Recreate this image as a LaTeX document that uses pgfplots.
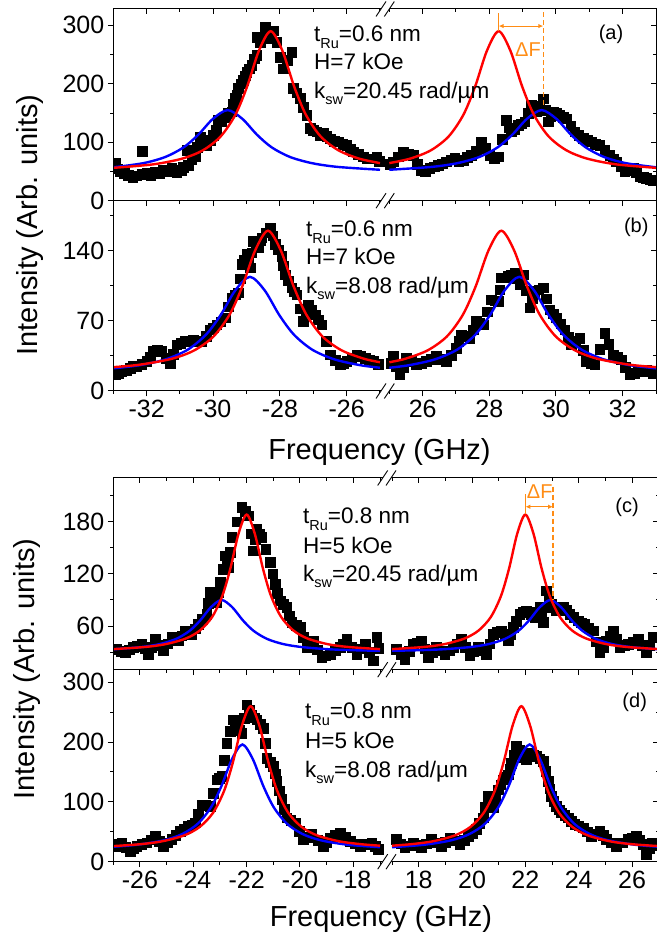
\documentclass[border=0pt]{standalone}
\usepackage{pgfplots}
\pgfplotsset{compat=1.18}
\usetikzlibrary{arrows.meta}
\usepackage{fontspec}
\setmainfont{Liberation Sans}
\definecolor{dfo}{RGB}{255,140,20}
\newcommand{\sub}[1]{\raisebox{-6.5pt}{\fontsize{14.5}{14.5}\selectfont #1}}
\newcommand{\brk}[3]{%
  \fill[white] ({#1-5},{#3-7.5}) -- ({#1+5},{#3+7.5}) -- ({#2+5},{#3+7.5}) -- ({#2-5},{#3-7.5}) -- cycle;
  \draw[line width=0.9pt] ({#1-5},{#3-7.5}) -- ({#1+5},{#3+7.5});
  \draw[line width=0.9pt] ({#2-5},{#3-7.5}) -- ({#2+5},{#3+7.5});}
\pgfplotsset{
  base/.style={scale only axis, anchor=south west, axis line style={line width=1pt}, clip marker paths=true,
    tick style={black, line width=1pt}, major tick length=5.5pt, minor tick length=3pt,
    tick label style={font=\fontsize{25}{25}\selectfont}, /pgf/number format/assume math mode=true},
  ftop/.style={base, width=542.7pt, xmin=-33, xmax=-16.72,
    xtick={-32,-30,-28,-26,-23.72,-21.72,-19.72,-17.72}, xticklabels={-32,-30,-28,-26,26,28,30,32},
    minor xtick={-33,-31,-29,-27,-25,-24.72,-22.72,-20.72,-18.72,-16.72}},
  fbot/.style={base, width=545.4pt, xmin=-27, xmax=-6.55,
    xtick={-26,-24,-22,-20,-18,-15.55,-13.55,-11.55,-9.55,-7.55}, xticklabels={-26,-24,-22,-20,-18,18,20,22,24,26},
    minor xtick={-27,-25,-23,-21,-19,-17,-16.55,-14.55,-12.55,-10.55,-8.55,-6.55}},
  pa/.style={ftop, at={(113.3pt,733.3pt)}, height=191.7pt, ymin=0, ymax=328, ytick={0,100,200,300}, minor ytick={50,150,250}},
  pb/.style={ftop, at={(113.3pt,543pt)}, height=190.3pt, ymin=0, ymax=190, ytick={0,70,140}, minor ytick={35,105,175}},
  pc/.style={fbot, at={(113.3pt,264.3pt)}, height=191.7pt, ymin=10, ymax=230, ytick={60,120,180}, minor ytick={30,90,150,210}},
  pd/.style={fbot, at={(113.3pt,72.3pt)}, height=192pt, ymin=0, ymax=321, ytick={0,100,200,300}, minor ytick={50,150,250}},
  main/.style={tick align=outside, xtick pos=left, ytick pos=left},
  mirror/.style={tick align=inside, xtick pos=right, ytick pos=right, xticklabels={}, yticklabels={}},
  rtop/.style={x filter/.expression={x-49.72}},
  rbot/.style={x filter/.expression={x-33.55}},
  dat/.style={only marks, mark=square*, mark size=4.8pt, black},
  rc/.style={smooth, red, line width=2.4pt, mark=none},
  bc/.style={smooth, blue, line width=2.4pt, mark=none},
}
\begin{document}
\begin{tikzpicture}[x=1pt,y=1pt]
\useasboundingbox (0,0) rectangle (656,934);
% ---------------- (a)
\begin{axis}[pa, main, xticklabels={}]
\addplot[dat] coordinates {(-32.95,63.8) (-32.8,49.6) (-32.55,43.9) (-32.3,42.8) (-32.13,84.9) (-32.0,46.7) (-31.75,49.6) (-31.5,52.4) (-31.25,55.3) (-30.95,52.4) (-30.8,86.6) (-30.75,61) (-30.55,75) (-30.4,109) (-30.2,95) (-30.0,112) (-29.85,138) (-29.65,143) (-29.45,152) (-29.35,175) (-29.25,192) (-29.1,206) (-29.0,220) (-28.85,232) (-28.7,249) (-28.7,280) (-28.45,297) (-28.3,277) (-28.2,291) (-28.1,271) (-27.9,226) (-27.65,254) (-27.6,192) (-27.4,175) (-27.2,146) (-27.1,124) (-26.9,118) (-26.7,115) (-26.5,106) (-26.25,101) (-26.0,95) (-25.8,84) (-25.5,75) (-25.25,72) (-25.1,75)};
\addplot[dat] coordinates {(-32.88,55) (-32.68,47) (-32.42,40) (-32.15,45) (-31.88,44) (-31.62,47) (-31.38,50) (-31.1,49) (-30.9,57) (-30.65,70) (-30.48,92) (-30.3,100) (-30.1,104) (-29.92,121) (-29.75,136) (-29.55,150) (-29.4,165) (-29.3,180) (-29.18,200) (-29.05,214) (-28.92,226) (-28.78,243) (-28.6,270) (-28.38,285) (-28.25,288) (-28.0,245) (-27.78,240) (-27.5,185) (-27.3,160) (-27.0,121) (-26.8,112) (-26.6,110) (-26.38,102) (-26.12,97) (-25.9,88) (-25.65,80) (-25.38,72) (-25.02,68)};
\addplot[dat, rtop] coordinates {(25.11,66.7) (25.41,83.7) (25.71,78) (25.96,52.4) (26.21,55.3) (26.46,61) (26.71,66.7) (26.96,72.4) (27.21,69.5) (27.46,78) (27.76,100.8) (28.01,78) (28.26,75.2) (28.51,137.8) (28.66,117.9) (28.86,129.3) (29.06,135) (29.26,163.4) (29.41,152) (29.61,174.8) (29.76,135) (29.91,152) (30.11,146.3) (30.31,140.6) (30.56,117.9) (30.81,106.5) (31.06,100.8) (31.31,95.1) (31.61,78) (31.81,66.7) (32.06,49.6) (32.31,55.3) (32.51,41) (32.71,38.2) (32.91,35.4)};
\addplot[dat, rtop] coordinates {(25.03,62) (25.26,75) (25.56,80) (25.84,62) (26.08,50) (26.34,58) (26.58,63) (26.84,70) (27.08,68) (27.34,74) (27.6,85) (27.88,90) (28.14,72) (28.38,105) (28.58,125) (28.76,122) (28.96,132) (29.16,150) (29.34,160) (29.51,162) (29.68,155) (29.84,145) (30.01,150) (30.21,143) (30.44,128) (30.68,112) (30.94,104) (31.18,97) (31.46,86) (31.71,72) (31.94,58) (32.18,52) (32.41,48) (32.61,40) (32.81,36)};
\addplot[bc] coordinates {(-33,57.1) (-32.10,64.2) (-31.44,74.8) (-30.89,91.3) (-30.45,112.9) (-30.01,140.1) (-29.57,155) (-29.13,140.1) (-28.69,112.9) (-28.25,91.3) (-27.70,74.8) (-27.04,64.2) (-26.27,57.8) (-25,52.9)};
\addplot[bc, rtop] coordinates {(25,52.9) (26.27,57.8) (27.04,64.2) (27.70,74.8) (28.25,91.3) (28.69,112.9) (29.13,140.1) (29.57,155) (30.01,140.1) (30.45,112.9) (30.89,91.3) (31.44,74.8) (32.10,64.2) (33,57.1)};
\addplot[rc] coordinates {(-33,56.2) (-31.8,62.2) (-30.92,72.2) (-30.304,86.5) (-29.776,110.2) (-29.336,147.2) (-28.984,195.6) (-28.632,256.6) (-28.28,290) (-27.928,256.6) (-27.576,195.6) (-27.224,147.2) (-26.784,110.2) (-26.256,86.5) (-25.64,72.2) (-25,64.3)};
\addplot[rc, rtop] coordinates {(25,64.3) (25.64,72.2) (26.256,86.5) (26.784,110.2) (27.224,147.2) (27.576,195.6) (27.928,256.6) (28.28,290) (28.632,256.6) (28.984,195.6) (29.336,147.2) (29.776,110.2) (30.304,86.5) (30.92,72.2) (31.8,62.2) (33,56.2)};
\draw[dfo, line width=1.1pt] (axis cs:-21.44,291) -- (axis cs:-21.44,321);
\draw[dfo, line width=1.1pt, {Latex[length=5pt,width=4.5pt]}-{Latex[length=5pt,width=4.5pt]}] (axis cs:-21.44,298.8) -- (axis cs:-20.10,298.8);
\draw[dfo, line width=1.3pt, dash pattern=on 5pt off 3pt] (axis cs:-20.10,322) -- (axis cs:-20.10,158);
\node[dfo, font=\fontsize{20}{20}\selectfont] at (axis cs:-20.56,257.8) {ΔF};
\end{axis}
\begin{axis}[pa, mirror]\end{axis}
% ---------------- (b)
\begin{axis}[pb, main]
\addplot[dat] coordinates {(-32.95,16.3) (-32.75,19.7) (-32.5,23) (-32.3,24.7) (-32.0,29.7) (-31.8,39.7) (-31.55,39.7) (-31.3,28) (-31.1,46.3) (-30.85,49.7) (-30.6,51.3) (-30.35,49.7) (-30.1,61.3) (-29.9,66.3) (-29.65,73) (-29.45,93) (-29.25,98) (-29.15,126.3) (-29.0,136.3) (-28.9,123) (-28.8,149.7) (-28.65,143.3) (-28.55,153) (-28.3,163) (-28.15,146.3) (-27.95,134.7) (-27.85,116.3) (-27.65,103) (-27.5,96.3) (-27.3,69.7) (-27.15,86.3) (-26.95,76.3) (-26.75,66.3) (-26.5,36.3) (-26.2,26.3) (-26.0,29.7) (-25.7,36.3) (-25.45,33) (-25.2,29.7)};
\addplot[dat] coordinates {(-32.85,18) (-32.62,21) (-32.4,25) (-32.15,27) (-31.9,34) (-31.68,41) (-31.42,33) (-31.2,37) (-30.98,48) (-30.72,50) (-30.48,50) (-30.22,55) (-30.0,63) (-29.78,69) (-29.55,84) (-29.35,96) (-29.2,112) (-29.08,131) (-28.95,128) (-28.85,138) (-28.72,146) (-28.6,150) (-28.42,158) (-28.22,155) (-28.05,141) (-27.9,125) (-27.75,110) (-27.58,99) (-27.4,82) (-27.22,78) (-27.05,81) (-26.85,71) (-26.62,50) (-26.35,31) (-26.1,28) (-25.85,33) (-25.58,35) (-25.32,31) (-25.05,27)};
\addplot[dat, rtop] coordinates {(25.11,34.7) (25.31,16.3) (25.51,33) (25.81,26.3) (26.11,29.7) (26.41,34.7) (26.71,29.7) (27.0,43) (27.16,56.3) (27.41,53) (27.61,69.7) (27.81,66.3) (28.06,91.3) (28.26,89.7) (28.36,113) (28.56,114.7) (28.76,118) (28.91,106.3) (29.01,116.3) (29.21,83) (29.36,99.7) (29.61,103) (29.81,81.3) (30.01,73) (30.26,61.3) (30.46,46.3) (30.71,53) (30.91,29.7) (31.16,26.3) (31.46,58) (31.71,36.3) (31.96,31.3) (32.21,16.3) (32.46,19.7) (32.71,21.3) (32.91,18)};
\addplot[dat, rtop] coordinates {(25.05,28) (25.21,25) (25.41,24) (25.66,30) (25.96,28) (26.26,32) (26.56,32) (26.86,36) (27.08,50) (27.28,55) (27.51,61) (27.71,68) (27.94,79) (28.16,90) (28.31,101) (28.46,113) (28.66,116) (28.84,112) (28.96,111) (29.11,100) (29.28,92) (29.48,101) (29.71,92) (29.91,77) (30.14,67) (30.36,54) (30.58,50) (30.81,41) (31.04,28) (31.31,42) (31.58,47) (31.84,34) (32.08,24) (32.34,18) (32.58,20) (32.81,20)};
\addplot[bc] coordinates {(-33,22.6) (-32.2,25.8) (-31.43,31.6) (-30.77,41.2) (-30.22,56.2) (-29.78,75.8) (-29.34,100.5) (-28.9,114) (-28.46,100.5) (-28.02,75.8) (-27.58,56.2) (-27.03,41.2) (-26.37,31.6) (-25.6,25.8) (-25,23.2)};
\addplot[bc, rtop] coordinates {(25,23.2) (25.6,25.8) (26.37,31.6) (27.03,41.2) (27.58,56.2) (28.02,75.8) (28.46,100.5) (28.9,114) (29.34,100.5) (29.78,75.8) (30.22,56.2) (30.77,41.2) (31.43,31.6) (32.2,25.8) (33,22.6)};
\addplot[rc] coordinates {(-33,23.8) (-32.2,26.3) (-31.24,32.2) (-30.568,40.6) (-29.992,54.5) (-29.512,76.2) (-29.128,104.6) (-28.744,140.4) (-28.36,160) (-27.976,140.4) (-27.592,104.6) (-27.208,76.2) (-26.728,54.5) (-26.152,40.6) (-25.48,32.2) (-25,28.7)};
\addplot[rc, rtop] coordinates {(25,28.7) (25.48,32.2) (26.152,40.6) (26.728,54.5) (27.208,76.2) (27.592,104.6) (27.976,140.4) (28.36,160) (28.744,140.4) (29.128,104.6) (29.512,76.2) (29.992,54.5) (30.568,40.6) (31.24,32.2) (32.2,26.3) (33,23.8)};
\end{axis}
\begin{axis}[pb, mirror]\end{axis}
% ---------------- (c)
\begin{axis}[pc, main, xticklabels={}]
\addplot[dat] coordinates {(-26.87,33.7) (-26.56,29.9) (-26.25,35.6) (-25.94,39.5) (-25.69,28) (-25.44,45.2) (-25.12,31.8) (-24.81,47.1) (-24.56,43.3) (-24.31,54.8) (-24.06,51) (-23.81,62.4) (-23.5,73.9) (-23.37,98.7) (-23.12,87.3) (-23.0,110.2) (-22.81,140.8) (-22.69,127.4) (-22.56,161.8) (-22.19,196.3) (-21.94,186.7) (-21.75,146.5) (-21.62,171.4) (-21.44,161.8) (-21.12,133.2) (-20.94,108.3) (-20.75,89.2) (-20.5,81.5) (-20.31,64.3) (-20.0,58.6) (-19.75,35.6) (-19.5,43.3) (-19.19,24.2) (-18.87,28) (-18.5,35.6) (-18.25,45.2) (-17.87,28) (-17.56,39.5) (-17.25,20.4) (-17.12,47.1)};
\addplot[dat] coordinates {(-26.72,31) (-26.4,33) (-26.1,37) (-25.82,34) (-25.56,36) (-25.28,38) (-24.96,40) (-24.68,45) (-24.44,49) (-24.18,52) (-23.94,57) (-23.66,68) (-23.44,86) (-23.25,92) (-23.06,99) (-22.9,125) (-22.75,134) (-22.62,145) (-22.38,180) (-22.06,192) (-21.85,166) (-21.68,160) (-21.53,166) (-21.28,148) (-21.03,120) (-20.85,98) (-20.62,85) (-20.4,72) (-20.15,61) (-19.88,47) (-19.62,40) (-19.35,33) (-19.03,26) (-18.68,32) (-18.38,40) (-18.06,36) (-17.72,34) (-17.4,30) (-17.05,35)};
\addplot[dat, rbot] coordinates {(17.16,33.7) (17.48,22.3) (17.79,39.5) (18.1,43.3) (18.35,24.2) (18.66,35.6) (18.98,28) (19.29,35.6) (19.6,45.2) (19.91,26.1) (20.23,35.6) (20.54,28) (20.79,51) (21.1,54.8) (21.35,43.3) (21.54,58.6) (21.79,73.9) (22.04,77.7) (22.35,70.1) (22.54,81.5) (22.66,64.3) (22.79,100.7) (22.98,85.4) (23.16,77.7) (23.41,81.5) (23.66,73.9) (23.98,66.2) (24.23,62.4) (24.54,54.8) (24.79,29.9) (25.04,43.3) (25.29,54.8) (25.54,35.6) (25.85,39.5) (26.23,45.2) (26.54,29.9) (26.79,47.1)};
\addplot[dat, rbot] coordinates {(17.32,28) (17.64,31) (17.95,41) (18.22,34) (18.5,30) (18.82,32) (19.14,32) (19.45,40) (19.75,36) (20.07,31) (20.38,32) (20.66,40) (20.95,53) (21.22,49) (21.45,51) (21.66,66) (21.92,76) (22.2,74) (22.45,76) (22.6,73) (22.72,82) (22.88,93) (23.07,82) (23.28,80) (23.54,78) (23.82,70) (24.1,64) (24.38,58) (24.66,42) (24.92,36) (25.16,49) (25.42,45) (25.7,38) (26.04,42) (26.38,38) (26.66,38)};
\addplot[bc] coordinates {(-27,33.4) (-25.94,36) (-25.24,39.5) (-24.64,45.4) (-24.14,54.6) (-23.74,66.6) (-23.34,81.7) (-22.94,90) (-22.54,81.7) (-22.14,66.6) (-21.74,54.6) (-21.24,45.4) (-20.64,39.5) (-19.94,36) (-18.94,33.5) (-17.94,32.3) (-17,31.7)};
\addplot[bc, rbot] coordinates {(17,31.7) (17.94,32.3) (18.94,33.5) (19.94,36) (20.64,39.5) (21.24,45.4) (21.74,54.6) (22.14,66.6) (22.54,81.7) (22.94,90) (23.34,81.7) (23.74,66.6) (24.14,54.6) (24.64,45.4) (25.24,39.5) (25.94,36) (27,33.4)};
\addplot[rc] coordinates {(-27,33.6) (-25.8,36.1) (-25.04,39.3) (-24.28,45.8) (-23.748,55.1) (-23.292,70.6) (-22.912,94.8) (-22.608,126.4) (-22.304,166.2) (-22,188) (-21.696,166.2) (-21.392,126.4) (-21.088,94.8) (-20.708,70.6) (-20.252,55.1) (-19.72,45.8) (-18.96,39.3) (-18.2,36.1) (-17,33.6)};
\addplot[rc, rbot] coordinates {(17,33.6) (18.2,36.1) (18.96,39.3) (19.72,45.8) (20.252,55.1) (20.708,70.6) (21.088,94.8) (21.392,126.4) (21.696,166.2) (22,188) (22.304,166.2) (22.608,126.4) (22.912,94.8) (23.292,70.6) (23.748,55.1) (24.28,45.8) (25.04,39.3) (25.8,36.1) (27,33.6)};
\draw[dfo, line width=1.1pt] (axis cs:-11.55,189) -- (axis cs:-11.55,212);
\draw[dfo, line width=1.1pt, {Latex[length=5pt,width=4.5pt]}-{Latex[length=5pt,width=4.5pt]}] (axis cs:-11.55,197) -- (axis cs:-10.51,197);
\draw[dfo, line width=1.3pt, dash pattern=on 5pt off 3pt] (axis cs:-10.51,220) -- (axis cs:-10.51,91);
\node[dfo, font=\fontsize{20}{20}\selectfont] at (axis cs:-11.01,214) {ΔF};
\end{axis}
\begin{axis}[pc, mirror]\end{axis}
% ---------------- (d)
\begin{axis}[pd, main]
\addplot[dat] coordinates {(-26.94,26.2) (-26.69,31.7) (-26.37,17.9) (-26.12,26.2) (-25.75,31.7) (-25.44,42.8) (-25.12,26.2) (-24.81,37.3) (-24.5,51.2) (-24.19,59.5) (-23.94,65.1) (-23.69,95.6) (-23.37,92.9) (-23.12,137.3) (-22.94,142.9) (-22.75,198.4) (-22.5,237.3) (-22.37,226.2) (-22.19,215.1) (-22.0,262.3) (-21.81,245.7) (-21.62,237.3) (-21.37,223.4) (-21.25,173.4) (-21.0,159.5) (-20.87,134.5) (-20.69,104) (-20.5,73.4) (-20.19,65.1) (-19.87,37.3) (-19.56,45.6) (-19.12,26.2) (-18.87,40.1) (-18.5,48.4) (-18.12,34.5) (-17.75,26.2) (-17.31,31.7) (-17.06,20.6)};
\addplot[dat] coordinates {(-26.82,29) (-26.53,24) (-26.25,22) (-25.94,29) (-25.6,37) (-25.28,34) (-24.96,32) (-24.66,44) (-24.34,55) (-24.06,62) (-23.82,80) (-23.53,94) (-23.25,115) (-23.03,140) (-22.85,170) (-22.62,218) (-22.44,232) (-22.28,220) (-22.1,240) (-21.9,254) (-21.72,241) (-21.5,230) (-21.31,198) (-21.12,166) (-20.94,147) (-20.78,119) (-20.6,88) (-20.35,69) (-20.03,51) (-19.72,41) (-19.34,36) (-19.0,33) (-18.68,44) (-18.31,41) (-17.94,30) (-17.53,29) (-17.18,26)};
\addplot[dat, rbot] coordinates {(17.16,37.3) (17.48,23.4) (17.79,31.7) (18.1,23.4) (18.48,37.3) (18.85,26.2) (19.16,40.1) (19.54,29) (19.85,42.8) (20.16,54) (20.41,73.4) (20.6,109.5) (20.79,90.1) (20.98,120.6) (21.16,137.3) (21.35,145.6) (21.48,165.1) (21.66,192.9) (21.85,179) (22.04,170.6) (22.23,181.8) (22.41,176.2) (22.66,167.9) (22.85,134.5) (22.98,109.5) (23.16,92.9) (23.35,81.7) (23.6,73.4) (23.85,62.3) (24.16,56.7) (24.48,42.8) (24.79,51.2) (25.04,37.3) (25.41,26.2) (25.85,37.3) (26.16,42.8) (26.41,29) (26.54,12.3) (26.73,31.7)};
\addplot[dat, rbot] coordinates {(17.32,30) (17.64,27) (17.95,28) (18.29,30) (18.66,32) (19.0,33) (19.35,35) (19.7,36) (20.0,48) (20.28,64) (20.5,91) (20.7,100) (20.88,105) (21.07,129) (21.26,141) (21.42,155) (21.57,179) (21.76,186) (21.95,175) (22.14,176) (22.32,179) (22.54,172) (22.76,151) (22.92,122) (23.07,101) (23.26,87) (23.48,78) (23.72,68) (24.0,60) (24.32,50) (24.64,47) (24.92,44) (25.22,32) (25.63,32) (26.0,40) (26.28,36) (26.64,22) (26.9,28)};
\addplot[bc] coordinates {(-27,25) (-26.08,28.5) (-25.1,35.8) (-24.414,46.3) (-23.826,63.7) (-23.336,91) (-22.944,126.6) (-22.552,171.4) (-22.16,196) (-21.768,171.4) (-21.376,126.6) (-20.984,91) (-20.494,63.7) (-19.906,46.3) (-19.22,35.8) (-18.24,28.5) (-17,24.2)};
\addplot[bc, rbot] coordinates {(17,24.2) (18.24,28.5) (19.22,35.8) (19.906,46.3) (20.494,63.7) (20.984,91) (21.376,126.6) (21.768,171.4) (22.16,196) (22.552,171.4) (22.944,126.6) (23.336,91) (23.826,63.7) (24.414,46.3) (25.1,35.8) (26.08,28.5) (27,25)};
\addplot[rc] coordinates {(-27,26.1) (-26.0,29.2) (-25.17,34.1) (-24.34,44) (-23.759,58.2) (-23.261,81.7) (-22.846,118.4) (-22.514,166.4) (-22.182,226.9) (-21.85,260) (-21.518,226.9) (-21.186,166.4) (-20.854,118.4) (-20.439,81.7) (-19.941,58.2) (-19.36,44) (-18.53,34.1) (-17.7,29.2) (-17,26.8)};
\addplot[rc, rbot] coordinates {(17,26.8) (17.7,29.2) (18.53,34.1) (19.36,44) (19.941,58.2) (20.439,81.7) (20.854,118.4) (21.186,166.4) (21.518,226.9) (21.85,260) (22.182,226.9) (22.514,166.4) (22.846,118.4) (23.261,81.7) (23.759,58.2) (24.34,44) (25.17,34.1) (26.0,29.2) (27,26.1)};
\end{axis}
\begin{axis}[pd, mirror]\end{axis}
% ---------------- breaks
\brk{381}{389.3}{925}
\brk{381}{389.3}{733.3}
\brk{381}{389.3}{543}
\brk{382.7}{391}{456}
\brk{382.7}{391}{264.3}
\brk{382.7}{391}{72.3}
% ---------------- texts
\begin{scope}[every node/.style={anchor=base west, inner sep=0pt, font=\fontsize{22.5}{22.5}\selectfont}]
\node at (314,892.3) {t\sub{Ru}=0.6 nm};
\node at (314,864) {H=7 kOe};
\node at (314,835.7) {k\sub{sw}=20.45 rad/µm};
\node at (306,697.3) {t\sub{Ru}=0.6 nm};
\node at (306,669) {H=7 kOe};
\node at (306,640.7) {k\sub{sw}=8.08 rad/µm};
\node at (303,410) {t\sub{Ru}=0.8 nm};
\node at (303,380) {H=5 kOe};
\node at (303,352.7) {k\sub{sw}=20.45 rad/µm};
\node at (305,215) {t\sub{Ru}=0.8 nm};
\node at (305,185) {H=5 kOe};
\node at (305,156.7) {k\sub{sw}=8.08 rad/µm};
\end{scope}
\begin{scope}[every node/.style={inner sep=0pt, font=\fontsize{20}{20}\selectfont}]
\node at (611,900) {(a)};
\node at (636.3,707) {(b)};
\node at (627,427) {(c)};
\node at (634.7,232) {(d)};
\end{scope}
\node[rotate=90, inner sep=0pt, font=\fontsize{29}{29}\selectfont] at (30,709) {Intensity (Arb. units)};
\node[rotate=90, inner sep=0pt, font=\fontsize{29}{29}\selectfont] at (27,265) {Intensity (Arb. units)};
\node[anchor=base, inner sep=0pt, font=\fontsize{29}{29}\selectfont] at (379.5,474) {Frequency (GHz)};
\node[anchor=base, inner sep=0pt, font=\fontsize{29}{29}\selectfont] at (381,7) {Frequency (GHz)};
\end{tikzpicture}
\end{document}
